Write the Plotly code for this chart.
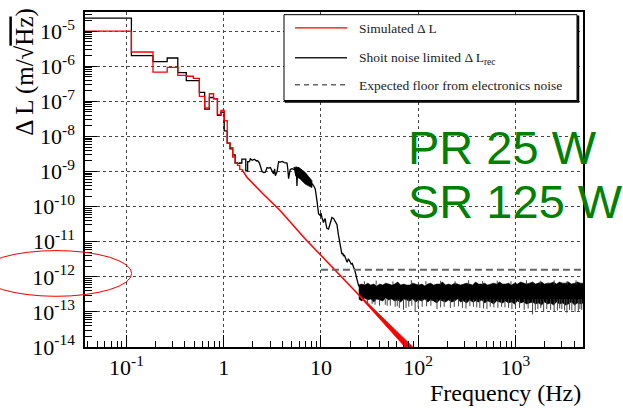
import math
import plotly.graph_objects as go

# ---------------- data ----------------
# low-frequency histogram bins (bin centres, Hz); bin width 0.075 Hz
bin_f = [0.075, 0.15, 0.225, 0.3, 0.375, 0.45, 0.525, 0.6, 0.675, 0.75, 0.825, 0.9,
         0.975, 1.05, 1.125, 1.2, 1.275, 1.35, 1.425, 1.5, 1.575, 1.65, 1.725, 1.8]
bin_width = 0.075
black_bins = [2.35e-5, 2.0e-6, 1.35e-6, 1.72e-6, 6.6e-7, 3.9e-7, 3.9e-7, 1.8e-7, 6.0e-8,
              1.29e-7, 1.18e-7, 4.0e-8, 4.9e-8, 1.45e-8, 6.5e-9, 4.4e-9, 3.0e-9, 1.75e-9,
              1.7e-9, 1.75e-9, 2.25e-9, 2.25e-9, 1.05e-9, 1.9e-9]
red_bins = [1.0e-5, 2.55e-6, 6.8e-7, 9.3e-7, 5.5e-7, 5.2e-7, 4.5e-7, 1.38e-7, 6.5e-8,
            1.65e-7, 1.2e-7, 4.2e-8, 5.5e-8, 2.8e-8, 6.5e-9, 4.8e-9, 2.6e-9, 1.7e-9,
            1.5e-9, 1.15e-9]

# shot-noise limited curve above the histogram bins
black_f = [1.8375, 1.88, 1.97, 2.07, 2.17, 2.23, 2.33, 2.38, 2.48, 2.58, 2.68, 2.79, 2.90,
           3.02, 3.14, 3.26, 3.34, 3.40, 3.54, 3.67, 3.82, 4.01, 4.20, 4.48, 4.56, 4.65,
           4.75, 4.84, 5.04, 5.23, 5.45, 5.60, 5.67, 5.75, 5.89, 6.13, 6.43, 6.74, 7.07,
           7.46, 7.76, 8.08, 8.40, 8.74, 9.10, 9.45, 9.84, 10.0, 10.24, 10.45, 10.63,
           10.85, 11.07, 11.3, 11.52, 11.97, 12.46, 12.97, 13.47, 14.03, 14.6, 15.16,
           15.79, 16.1, 16.43, 16.75, 17.06, 17.4, 17.77, 18.2, 18.62, 19.1, 19.53, 20.0,
           20.47, 21.0, 21.61, 22.5, 23.43, 24.32, 25.32]
black_v = [1.9e-9, 2.3e-9, 2.1e-9, 2.25e-9, 2.0e-9, 2.05e-9, 1.75e-9, 1.45e-9, 1.0e-9,
           9.4e-10, 9.6e-10, 1.3e-9, 1.25e-9, 1.3e-9, 1.1e-9, 8.6e-10, 1.2e-9, 7.6e-10,
           1.0e-9, 1.9e-9, 1.85e-9, 1.95e-9, 1.8e-9, 1.75e-9, 1.2e-9, 6.3e-10, 9e-10,
           1.15e-9, 1.2e-9, 1.15e-9, 1.2e-9, 1.0e-9, 3.9e-10, 1.1e-9, 1.3e-9, 1.1e-9,
           9e-10, 8e-10, 6.5e-10, 5.5e-10, 4.8e-10, 4.5e-10, 4.0e-10, 3.2e-10, 1.48e-10,
           6.3e-11, 5.6e-11, 6.5e-11, 4.9e-11, 4.0e-11, 3.5e-11, 4.2e-11, 4.6e-11, 3.0e-11,
           2.4e-11, 2.3e-11, 3.5e-11, 4.9e-11, 4.6e-11, 3.8e-11, 3.1e-11, 1.51e-11,
           7.9e-12, 5.5e-12, 4.4e-12, 4.8e-12, 3.9e-12, 4.2e-12, 3.4e-12, 3.0e-12, 2.6e-12,
           3.2e-12, 3.0e-12, 2.6e-12, 2.3e-12, 2.4e-12, 2.0e-12, 1.4e-12, 8.6e-13, 5.8e-13,
           4.8e-13]

# dense cluster around 5-8 Hz (envelope)
blob_top_f = [5.23, 5.67, 6.13, 6.9, 7.46, 8.08]
blob_top_v = [1.3e-9, 1.35e-9, 1.22e-9, 9.4e-10, 7.2e-10, 5.5e-10]
blob_bot_f = [8.08, 7.46, 6.9, 6.13, 5.45]
blob_bot_v = [3.5e-10, 4.0e-10, 4.4e-10, 6.1e-10, 7.6e-10]

# noise band above 25 Hz (upper / lower envelope of the dense trace)
band_f = [24.5, 26.3, 28.2, 30.3, 32.5, 34.9, 37.5, 40.2, 43.2, 46.4,
          49.8, 53.4, 57.4, 61.6, 66.1, 71, 76.2, 81.8, 87.8, 94.3,
          101, 109, 117, 125, 134, 144, 155, 166, 178, 191,
          205, 221, 237, 254, 273, 293, 315, 338, 363, 389,
          418, 449, 482, 517, 555, 596, 640, 687, 737, 792,
          850, 912, 979, 1051, 1129, 1212, 1301, 1396, 1499, 1609,
          1728, 1855, 1991, 2137, 2294, 2463, 2644, 2839, 3047, 3271,
          3512, 3770, 4047, 4345, 4664, 5000]
band_hi = [5.8e-13, 6.2e-13, 5.8e-13, 6.6e-13, 5.8e-13, 6.2e-13, 5.5e-13, 6.2e-13, 5.8e-13, 6.6e-13,
           6.2e-13, 5.8e-13, 6.2e-13, 7.1e-13, 5.8e-13, 6.2e-13, 5.8e-13, 5.8e-13, 6.6e-13, 6.2e-13,
           5.8e-13, 6.2e-13, 5.5e-13, 6.2e-13, 6.6e-13, 5.8e-13, 6.2e-13, 6.2e-13, 7.1e-13, 5.8e-13,
           6.2e-13, 5.8e-13, 6.6e-13, 6.2e-13, 5.8e-13, 6.2e-13, 6.6e-13, 6.2e-13, 5.8e-13, 7.1e-13,
           6.2e-13, 6.2e-13, 6.6e-13, 5.8e-13, 6.2e-13, 6.6e-13, 6.2e-13, 7.1e-13, 6.2e-13, 6.2e-13,
           6.6e-13, 5.8e-13, 6.6e-13, 6.2e-13, 7.1e-13, 6.6e-13, 6.2e-13, 6.6e-13, 7.1e-13, 6.2e-13,
           6.6e-13, 7.1e-13, 6.2e-13, 6.6e-13, 6.6e-13, 7.1e-13, 6.2e-13, 7.1e-13, 6.6e-13, 6.6e-13,
           7.1e-13, 6.2e-13, 6.6e-13, 7.1e-13, 6.6e-13, 6.6e-13]
band_lo = [2.33e-13, 2.05e-13, 2.49e-13, 2.19e-13, 2.33e-13, 1.92e-13, 2.33e-13, 2.19e-13, 2.05e-13, 2.49e-13,
           2.19e-13, 2.33e-13, 2.05e-13, 2.19e-13, 1.92e-13, 2.33e-13, 2.19e-13, 2.05e-13, 2.33e-13, 1.92e-13,
           2.19e-13, 2.05e-13, 2.33e-13, 1.92e-13, 2.19e-13, 2.05e-13, 1.80e-13, 2.19e-13, 2.05e-13, 1.92e-13,
           2.19e-13, 1.92e-13, 2.05e-13, 2.33e-13, 1.92e-13, 2.05e-13, 1.80e-13, 2.19e-13, 1.92e-13, 2.05e-13,
           1.92e-13, 2.19e-13, 1.80e-13, 2.05e-13, 1.92e-13, 1.69e-13, 2.05e-13, 1.92e-13, 1.80e-13, 2.05e-13,
           1.80e-13, 1.92e-13, 1.69e-13, 2.05e-13, 1.80e-13, 1.92e-13, 1.69e-13, 1.80e-13, 1.92e-13, 1.69e-13,
           1.80e-13, 1.58e-13, 1.92e-13, 1.69e-13, 1.80e-13, 1.58e-13, 1.92e-13, 1.69e-13, 1.80e-13, 1.58e-13,
           1.69e-13, 1.92e-13, 1.58e-13, 1.80e-13, 1.69e-13, 1.80e-13]
# isolated downward excursions below the band
spike_f = [30, 33.6, 40, 45.9, 51.7, 58, 64, 70.6, 80, 93,
           110, 135, 156, 185, 214, 260, 310, 370, 430, 509,
           600, 720, 850, 1000, 1230, 1500, 1700, 1950, 2300, 2700,
           3000, 3380, 3800, 4430, 4800,
           36, 48, 61, 75, 86, 100, 122, 170, 235, 285,
           340, 400, 470, 550, 660, 780, 920, 1100, 1350, 1600,
           1820, 2100, 2500, 2850, 3200, 3600, 4100, 4600]
spike_v = [1.8e-13, 1.7e-13, 1.5e-13, 1.6e-13, 1.5e-13, 1.4e-13, 1.3e-13, 1.15e-13, 1.4e-13, 1.0e-13,
           1.4e-13, 1.5e-13, 1.2e-13, 1.4e-13, 1.3e-13, 1.45e-13, 1.25e-13, 1.4e-13, 1.3e-13, 1.2e-13,
           1.35e-13, 1.4e-13, 1.3e-13, 1.25e-13, 1.15e-13, 8.5e-14, 1.2e-13, 1.0e-13, 1.15e-13, 1.1e-13,
           1.2e-13, 9.5e-14, 1.1e-13, 1.0e-13, 1.15e-13,
           1.6e-13, 1.5e-13, 1.45e-13, 1.3e-13, 1.5e-13, 1.35e-13, 1.45e-13, 1.35e-13, 1.4e-13, 1.3e-13,
           1.45e-13, 1.35e-13, 1.25e-13, 1.4e-13, 1.3e-13, 1.35e-13, 1.2e-13, 1.3e-13, 1.25e-13, 1.1e-13,
           1.3e-13, 1.2e-13, 1.05e-13, 1.25e-13, 1.1e-13, 1.15e-13, 1.0e-13, 1.2e-13]
spike_base = 2.3e-13
# upward excursions above the band
upspike_f = [28, 37, 55, 85, 120, 170, 240, 330, 460, 650, 900, 1300, 1800, 2500, 3400, 4200]
upspike_v = [7.5e-13, 7.8e-13, 7.4e-13, 8.0e-13, 7.5e-13, 7.7e-13, 7.4e-13, 8.0e-13,
             7.6e-13, 7.8e-13, 7.5e-13, 8.0e-13, 7.7e-13, 7.9e-13, 7.6e-13, 8.0e-13]
upspike_base = 6.0e-13

# simulated curve above the histogram bins
red_f = [1.5375, 1.74, 2.5, 3.82, 6.9, 9.82, 15.8, 25.4, 40.6, 65.2, 90]
red_v = [1.15e-9, 6.8e-10, 2.4e-10, 7.6e-11, 1.2e-11, 4.3e-12, 1.1e-12, 2.7e-13, 6.9e-14, 1.8e-14, 7e-15]
red_band_f = [25, 30, 40, 50, 60, 70, 80, 92]
red_band_hi = [3.0e-13, 1.8e-13, 8.2e-14, 4.6e-14, 2.8e-14, 1.8e-14, 1.3e-14, 8.9e-15]
red_band_lo = [2.75e-13, 1.58e-13, 6.7e-14, 3.3e-14, 1.9e-14, 1.15e-14, 7.6e-15, 5e-15]

# expected electronics floor
floor_f = [10, 5000]
floor_v = [1.6e-12, 1.6e-12]

x_tickvals = [0.1, 1, 10, 100, 1000]
x_ticktext = ["10<sup>-1</sup>", "1", "10", "10<sup>2</sup>", "10<sup>3</sup>"]
y_exps = list(range(-14, -4))
y_tickvals = [10.0 ** e for e in y_exps]
y_ticktext = ["10<sup>%d</sup>" % e for e in y_exps]

legend_labels = ["Simulated &#916; L",
                 "Shoit noise limited &#916; L<sub>rec</sub>",
                 "Expected floor from electronics noise"]

# ---------------- figure ----------------
BLACK = "black"
RED = "#ff0000"
SERIF = "Liberation Serif"

half = bin_width / 2
fig = go.Figure()

# noise band
bpairs = list(zip(band_f, band_hi, band_lo))
fig.add_trace(go.Scatter(x=[p[0] for p in bpairs] + [p[0] for p in bpairs[::-1]],
                         y=[p[1] for p in bpairs] + [p[2] for p in bpairs[::-1]],
                         mode="lines", fill="toself", fillcolor="black",
                         line=dict(color="black", width=0.6), hoverinfo="skip"))
sx, sy = [], []
for f, v in zip(spike_f, spike_v):
    sx += [f, f, None]
    sy += [spike_base, v, None]
for f, v in zip(upspike_f, upspike_v):
    sx += [f, f, None]
    sy += [upspike_base, v, None]
fig.add_trace(go.Scatter(x=sx, y=sy, mode="lines", line=dict(color="#444", width=1),
                         hoverinfo="skip"))
# blob
fig.add_trace(go.Scatter(x=blob_top_f + blob_bot_f, y=blob_top_v + blob_bot_v,
                         mode="lines", fill="toself", fillcolor="black",
                         line=dict(color="black", width=0.8), hoverinfo="skip"))

# black histogram part
bx = [c - half for c in bin_f] + [bin_f[-1] + half]
by = black_bins + [black_bins[-1]]
fig.add_trace(go.Scatter(x=bx, y=by, mode="lines", line=dict(color=BLACK, width=1.3, shape="hv")))
fig.add_trace(go.Scatter(x=black_f, y=black_v, mode="lines", line=dict(color=BLACK, width=1.3)))

# red histogram part
rb_f = bin_f[:len(red_bins)]
rx = [c - half for c in rb_f] + [rb_f[-1] + half]
ry = red_bins + [red_bins[-1]]
fig.add_trace(go.Scatter(x=rx, y=ry, mode="lines", line=dict(color=RED, width=1.3, shape="hv")))
fig.add_trace(go.Scatter(x=red_f, y=red_v, mode="lines", line=dict(color=RED, width=1.5)))
fig.add_trace(go.Scatter(x=red_band_f + red_band_f[::-1], y=red_band_hi + red_band_lo[::-1],
                         mode="lines", fill="toself", fillcolor=RED,
                         line=dict(color=RED, width=0.8), hoverinfo="skip"))

# floor
fig.add_trace(go.Scatter(x=floor_f, y=floor_v, mode="lines",
                         line=dict(color="#666", width=2, dash="7px,4px")))

# ---------------- layout ----------------
L, R, T, B = 85, 583, 10, 347
W, H = 623, 408


def px(X):
    return (X - L) / (R - L)


def py(Y):
    return (B - Y) / (B - T)


minor_x = [m * 10.0 ** e for e in range(-2, 4) for m in range(2, 10)]
minor_y = [m * 10.0 ** e for e in range(-14, -4) for m in range(2, 10)]

axis_common = dict(type="log", showline=True, linecolor="black", linewidth=1.5, mirror=True,
                   ticks="inside", tickcolor="black", tickwidth=1, ticklen=12,
                   showgrid=True, gridcolor="#444", griddash="dot", gridwidth=1,
                   zeroline=False, tickfont=dict(family=SERIF, size=22, color="black"))

fig.update_layout(
    width=W, height=H, margin=dict(l=L, r=W - R, t=T, b=H - B),
    paper_bgcolor="white", plot_bgcolor="white", showlegend=False,
    xaxis=dict(range=[math.log10(0.0375), math.log10(4950)], tickmode="array",
               tickvals=x_tickvals, ticktext=x_ticktext,
               minor=dict(tickmode="array", tickvals=minor_x, ticks="inside", ticklen=6,
                          tickcolor="black", showgrid=False),
               ticklabelstandoff=0, **axis_common),
    yaxis=dict(range=[-14, -4.453], tickmode="array", tickvals=y_tickvals, ticktext=y_ticktext,
               minor=dict(tickmode="array", tickvals=minor_y, ticks="inside", ticklen=7,
                          tickcolor="black", showgrid=False),
               ticklabelstandoff=4, **axis_common),
)

ann = []
# axis titles
ann.append(dict(text="Frequency (Hz)", x=px(583), y=py(393), xref="paper", yref="paper",
                xanchor="right", yanchor="middle", showarrow=False,
                font=dict(family=SERIF, size=24, color="black")))
ann.append(dict(text="&#916; L (m/&#8730;<span style=\"text-decoration:overline\">Hz</span>)",
                x=px(25), y=py(71), xref="paper", yref="paper", textangle=-90,
                xanchor="center", yanchor="middle", showarrow=False,
                font=dict(family=SERIF, size=25, color="black")))
# green labels
ann.append(dict(text="PR 25 W", x=px(406), y=py(146), xref="paper", yref="paper",
                xanchor="left", yanchor="middle", showarrow=False,
                font=dict(family="Liberation Sans", size=47, color="#008000")))
ann.append(dict(text="SR 125 W", x=px(406), y=py(201), xref="paper", yref="paper",
                xanchor="left", yanchor="middle", showarrow=False,
                font=dict(family="Liberation Sans", size=47, color="#008000")))

shapes = []
# legend box
shapes.append(dict(type="rect", xref="paper", yref="paper", x0=px(285.5), x1=px(578.5),
                   y0=py(100.5), y1=py(14.2), line=dict(color="black", width=1.5),
                   fillcolor="#333", layer="above"))
shapes.append(dict(type="rect", xref="paper", yref="paper", x0=px(284), x1=px(577),
                   y0=py(99), y1=py(12.7), line=dict(color="black", width=1),
                   fillcolor="white", layer="above"))
leg_y = [26, 56, 83.3]
leg_style = [dict(color=RED, width=1.3), dict(color="#222", width=1.3),
             dict(color="#666", width=1.5, dash="5px,4px")]
for yy, st, lab in zip(leg_y, leg_style, legend_labels):
    shapes.append(dict(type="line", xref="paper", yref="paper", x0=px(295), x1=px(347),
                       y0=py(yy), y1=py(yy), line=st, layer="above"))
    ann.append(dict(text=lab, x=px(357), y=py(yy + 0.5), xref="paper", yref="paper",
                    xanchor="left", yanchor="middle", showarrow=False,
                    font=dict(family=SERIF, size=13.5, color="#222")))
# red ellipse
shapes.append(dict(type="circle", xref="paper", yref="paper", x0=px(-19.7), x1=px(131.7),
                   y0=py(296), y1=py(250), line=dict(color=RED, width=1), layer="above"))

fig.update_layout(annotations=ann, shapes=shapes)
fig.write_html("out.html")
